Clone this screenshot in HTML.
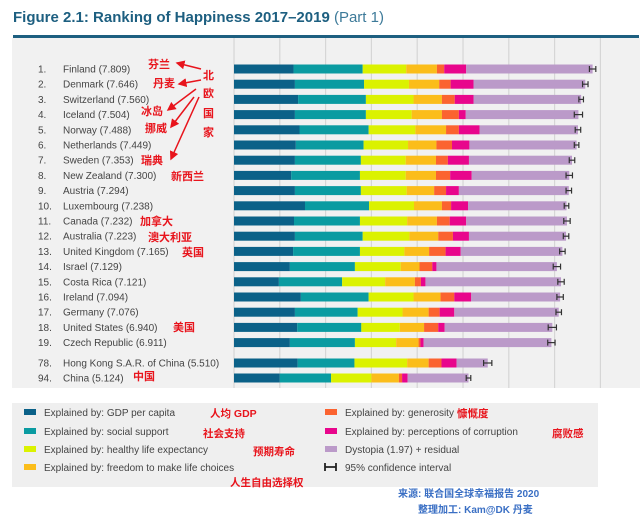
<!DOCTYPE html>
<html><head><meta charset="utf-8">
<style>
html,body{margin:0;padding:0;background:#fff;}
svg{display:block;font-family:"Liberation Sans","Noto Sans CJK SC",sans-serif;}
</style></head>
<body>
<svg id="chart" width="643" height="526" viewBox="0 0 643 526" xmlns="http://www.w3.org/2000/svg">
<rect x="12" y="38" width="628" height="350" fill="#f1f1f1"/>
<text x="13" y="22" font-size="15" font-weight="bold" fill="#1d5f80">Figure 2.1: Ranking of Happiness 2017–2019 <tspan font-weight="normal" fill="#3d7a99">(Part 1)</tspan></text>
<rect x="13" y="35" width="626" height="3" fill="#1d5f80"/>
<g id="grid"></g>
<g id="labels"></g>
<g id="bars"></g>
<g id="annot" font-weight="bold" fill="#e8141c" font-size="11">
<text x="148" y="68">芬兰</text>
<text x="153" y="87">丹麦</text>
<text x="141" y="115">冰岛</text>
<text x="145" y="132">挪威</text>
<text x="141" y="164">瑞典</text>
<text x="171" y="180">新西兰</text>
<text x="140" y="225">加拿大</text>
<text x="148" y="241">澳大利亚</text>
<text x="182" y="256">英国</text>
<text x="173" y="331">美国</text>
<text x="133" y="380">中国</text>
<text x="203" y="79">北</text>
<text x="203" y="97">欧</text>
<text x="203" y="117">国</text>
<text x="203" y="136">家</text>
</g>
<defs><marker id="ah" markerWidth="6" markerHeight="6" refX="5" refY="3" orient="auto"><path d="M0,0 L6,3 L0,6 z" fill="#e8141c"/></marker></defs>
<g stroke="#e8141c" stroke-width="1.5" marker-end="url(#ah)">
<line x1="201" y1="69" x2="177" y2="63"/>
<line x1="201" y1="80" x2="179" y2="84"/>
<line x1="196" y1="89" x2="168" y2="110"/>
<line x1="194" y1="97" x2="171" y2="127"/>
<line x1="199" y1="97" x2="171" y2="159"/>
</g>
<rect x="12" y="403" width="586" height="84" fill="#efefef"/>
<g id="legend" font-size="10" fill="#444"></g>
<g font-weight="bold" fill="#e8141c" font-size="10.5">
<text x="210" y="417">人均 GDP</text>
<text x="203" y="437">社会支持</text>
<text x="253" y="455">预期寿命</text>
<text x="230" y="486">人生自由选择权</text>
<text x="457" y="417">慷慨度</text>
<text x="552" y="437">腐败感</text>
</g>
<g font-weight="bold" fill="#3a6fc4" font-size="10">
<text x="398" y="497">来源: 联合国全球幸福报告 2020</text>
<text x="418" y="513">整理加工: Kam@DK 丹麦</text>
</g>
</svg>
<script>
const ranks=[1,2,3,4,5,6,7,8,9,10,11,12,13,14,15,16,17,18,19,78,94];
const countries=["Finland","Denmark","Switzerland","Iceland","Norway","Netherlands","Sweden","New Zealand","Austria","Luxembourg","Canada","Australia","United Kingdom","Israel","Costa Rica","Ireland","Germany","United States","Czech Republic","Hong Kong S.A.R. of China","China"];
const scores=["7.809","7.646","7.560","7.504","7.488","7.449","7.353","7.300","7.294","7.238","7.232","7.223","7.165","7.129","7.121","7.094","7.076","6.940","6.911","5.510","5.124"];
const gdp=[1.30,1.33,1.40,1.33,1.43,1.35,1.33,1.25,1.33,1.55,1.31,1.33,1.29,1.22,0.98,1.46,1.33,1.38,1.22,1.39,1.00];
const social=[1.51,1.51,1.48,1.55,1.51,1.48,1.44,1.50,1.44,1.40,1.44,1.48,1.46,1.42,1.38,1.48,1.37,1.40,1.42,1.24,1.12];
const health=[0.95,0.98,1.04,1.00,1.02,0.97,0.98,1.00,1.00,0.98,1.03,1.02,0.97,1.00,0.94,0.98,0.98,0.84,0.90,1.15,0.88];
const freedom=[0.67,0.66,0.62,0.66,0.67,0.62,0.66,0.66,0.60,0.61,0.65,0.63,0.54,0.41,0.65,0.59,0.57,0.53,0.49,0.47,0.60];
const generosity=[0.16,0.25,0.28,0.37,0.28,0.34,0.26,0.31,0.26,0.20,0.28,0.32,0.36,0.28,0.13,0.30,0.24,0.31,0.04,0.28,0.07];
const corruption=[0.48,0.50,0.41,0.15,0.45,0.38,0.46,0.47,0.28,0.37,0.36,0.35,0.33,0.09,0.10,0.37,0.32,0.14,0.07,0.33,0.12];
const dystopia=[2.76,2.44,2.35,2.46,2.15,2.34,2.25,2.13,2.40,2.15,2.20,2.12,2.22,2.63,2.96,1.94,2.28,2.35,2.79,0.68,1.33];
const ciHalf=[0.07,0.06,0.05,0.09,0.06,0.05,0.06,0.07,0.06,0.05,0.07,0.06,0.06,0.08,0.07,0.07,0.06,0.09,0.08,0.09,0.05];
const gridTicks=[0,1,2,3,4,5,6,7,8];
const seriesNames=["gdp","social","health","freedom","generosity","corruption","dystopia"];
const seriesData=[gdp,social,health,freedom,generosity,corruption,dystopia];
const colors=["#0b6188","#0a9ba1","#dbf200","#fbbd1a","#fb6330","#e8068c","#bb9ac9"];
const legendLabels=["Explained by: GDP per capita","Explained by: social support","Explained by: healthy life expectancy","Explained by: freedom to make life choices","Explained by: generosity","Explained by: perceptions of corruption","Dystopia (1.97) + residual","95% confidence interval"];

const NS="http://www.w3.org/2000/svg";
const X0=234, PX=45.8;
function xs(v){return X0+v*PX;}
function ys(i){return i<19 ? 69+i*15.2 : (i===19?363:378);}
function mk(tag,attrs,parent){const e=document.createElementNS(NS,tag);for(const k in attrs)e.setAttribute(k,attrs[k]);parent.appendChild(e);return e;}

const grid=document.getElementById('grid');
gridTicks.forEach(t=>{
  const l=mk('line',{x1:xs(t),x2:xs(t),y1:38,y2:388,stroke:'#d6d6d6','stroke-width':1.2},grid);
  
  
});
const labels=document.getElementById('labels');
const bars=document.getElementById('bars');
countries.forEach((c,i)=>{
  const y=ys(i);
  const r=mk('text',{x:38,y:y+3.5,'font-size':10,fill:'#444'},labels);
  r.textContent=ranks[i]+'.';
  
  
  const n=mk('text',{x:63,y:y+3.5,'font-size':10,fill:'#444'},labels);
  n.textContent=c+' ('+scores[i]+')';
  
  
  let acc=0;
  seriesData.forEach((arr,s)=>{
    const b=mk('rect',{x:xs(acc),y:y-4.5,width:Math.max(0,arr[i]*PX),height:9,fill:colors[s]},bars);
    
    
    acc+=arr[i];
  });
  const x1=xs(acc-ciHalf[i]), x2=xs(acc+ciHalf[i]);
  const g=mk('g',{stroke:'#333','stroke-width':1.2},bars);
  
  
  mk('line',{x1:x1,x2:x2,y1:y,y2:y},g);
  mk('line',{x1:x1,x2:x1,y1:y-3,y2:y+3},g);
  mk('line',{x1:x2,x2:x2,y1:y-3,y2:y+3},g);
});
const legend=document.getElementById('legend');
const lrows=[416,435,453,471];
legendLabels.forEach((lab,k)=>{
  const col=k<4?0:1, row=k%4;
  const sx=col?325:24, y=lrows[row];
  const g=mk('g',{},legend);
  
  
  if(k<7){mk('rect',{x:sx,y:y-7,width:12,height:6,fill:colors[k]},g);}
  else{mk('path',{d:`M${sx},${y-8} v8 M${sx},${y-4} h11 M${sx+11},${y-8} v8`,stroke:'#222','stroke-width':1.8,fill:'none'},g);}
  const t=mk('text',{x:sx+20,y:y,'font-size':10,fill:'#444'},g);
  t.textContent=lab;
});
</script>
</body></html>
